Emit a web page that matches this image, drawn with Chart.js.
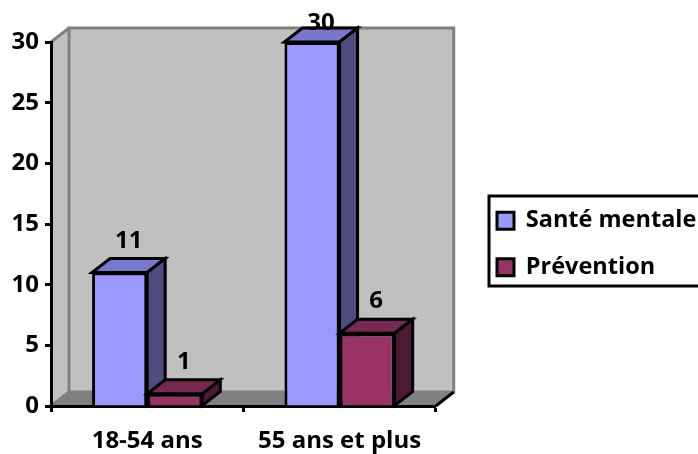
<!DOCTYPE html>
<html>
<head>
<meta charset="utf-8">
<script src="https://cdn.jsdelivr.net/npm/chart.js@4"></script>
<style>
  html, body { margin: 0; padding: 0; background: #fff; overflow: hidden; }
  canvas { display: block; }
</style>
</head>
<body>
<canvas id="chart" width="698" height="454"></canvas>
<script>
const categories = ['18-54 ans', '55 ans et plus'];
const santeMentale = [11, 30];
const prevention = [1, 6];

const FONT = '"Open Sans", "Noto Sans", sans-serif';
const DX = 18;   // oblique depth of the fake 3D
const DY = 14;

function poly(ctx, pts, fill, stroke) {
  ctx.beginPath();
  pts.forEach((p, i) => (i ? ctx.lineTo(p[0], p[1]) : ctx.moveTo(p[0], p[1])));
  ctx.closePath();
  if (fill) { ctx.fillStyle = fill; ctx.fill(); }
  if (stroke) { ctx.strokeStyle = stroke; ctx.lineWidth = 3; ctx.lineJoin = 'miter'; ctx.stroke(); }
}

// Walls and floor go behind the axes
const walls = {
  id: 'walls',
  beforeDraw(chart) {
    const { ctx, chartArea: a } = chart;
    const gray = '#808080', wall = '#c0c0c0';
    ctx.save();
    poly(ctx, [[a.left, a.top], [a.left + DX, a.top - DY], [a.left + DX, a.bottom - DY], [a.left, a.bottom]], wall);
    poly(ctx, [[a.left + DX, a.top - DY], [a.right + DX, a.top - DY], [a.right + DX, a.bottom - DY], [a.left + DX, a.bottom - DY]], wall, gray);
    poly(ctx, [[a.left, a.bottom], [a.left + DX, a.bottom - DY], [a.right + DX, a.bottom - DY], [a.right, a.bottom]], gray);
    ctx.strokeStyle = gray;
    ctx.lineWidth = 3;
    ctx.beginPath();
    ctx.moveTo(a.left, a.top);
    ctx.lineTo(a.left + DX, a.top - DY);
    ctx.moveTo(a.left, a.bottom);
    ctx.lineTo(a.left + DX, a.bottom - DY);
    ctx.stroke();
    ctx.strokeStyle = '#000';
    ctx.beginPath();
    ctx.moveTo(a.right, a.bottom);
    ctx.lineTo(a.right + DX, a.bottom - DY);
    ctx.stroke();
    ctx.restore();
  }
};

// Depth faces and value labels; redraws bars so each series overlaps the previous one
const bars3d = {
  id: 'bars3d',
  beforeDatasetDraw() { return false; },
  afterDatasetsDraw(chart) {
    const { ctx } = chart;
    chart.data.datasets.forEach((ds, i) => {
      const meta = chart.getDatasetMeta(i);
      meta.data.forEach(bar => {
        const l = bar.x - bar.width / 2, r = bar.x + bar.width / 2;
        poly(ctx, [[l, bar.y], [l + DX, bar.y - DY], [r + DX, bar.y - DY], [r, bar.y]], ds.topColor, '#000');
        poly(ctx, [[r, bar.y], [r + DX, bar.y - DY], [r + DX, bar.base - DY], [r, bar.base]], ds.sideColor, '#000');
      });
      meta.controller.draw();
    });
    ctx.save();
    ctx.font = 'bold 24px ' + FONT;
    ctx.fillStyle = '#000';
    ctx.textAlign = 'center';
    ctx.textBaseline = 'alphabetic';
    chart.data.datasets.forEach((ds, i) => {
      chart.getDatasetMeta(i).data.forEach((bar, j) => {
        ctx.fillText(String(ds.data[j]), bar.x + DX / 2, Math.max(bar.y - 25, 30));
      });
    });
    ctx.restore();
  }
};

// Puts the legend where the reference has it and frames it (right edge runs off the page)
const legendBox = {
  id: 'legendBox',
  afterLayout(chart) {
    const lg = chart.legend;
    lg.left = 474;
    lg.right = 698;
    lg.top = 149;
    lg.bottom = 339;
  },
  afterDraw(chart) {
    const { ctx } = chart;
    ctx.save();
    ctx.strokeStyle = '#000';
    ctx.lineWidth = 3;
    ctx.strokeRect(489, 196, 220, 90);
    ctx.restore();
  }
};

new Chart(document.getElementById('chart'), {
  type: 'bar',
  data: {
    labels: categories,
    datasets: [
      { label: 'Santé mentale', data: santeMentale, backgroundColor: '#9999ff', topColor: '#7777cc', sideColor: '#4d4d80', borderColor: '#000', borderWidth: 3, categoryPercentage: 0.573, barPercentage: 1 },
      { label: 'Prévention', data: prevention, backgroundColor: '#993366', topColor: '#772950', sideColor: '#4d1a33', borderColor: '#000', borderWidth: 3, categoryPercentage: 0.573, barPercentage: 1 }
    ]
  },
  options: {
    responsive: false,
    animation: false,
    layout: { padding: { top: 42, bottom: 0, left: 0, right: 117 } },
    plugins: {
      tooltip: { enabled: false },
      legend: {
        position: 'right',
        labels: {
          color: '#000',
          font: { family: FONT, size: 23.5, weight: 'bold' },
          boxWidth: 17,
          boxHeight: 17,
          padding: 23
        }
      }
    },
    scales: {
      x: {
        grid: { drawOnChartArea: false, drawTicks: true, tickLength: 6, tickColor: '#000', tickWidth: 3 },
        border: { color: '#000', width: 3 },
        ticks: { color: '#000', padding: 15, maxRotation: 0, font: { family: FONT, size: 24, weight: 'bold' } },
        afterFit(scale) { scale.height = 48; }
      },
      y: {
        min: 0,
        max: 30,
        grid: { drawOnChartArea: false, drawTicks: true, tickLength: 6, tickColor: '#000', tickWidth: 3 },
        border: { color: '#000', width: 3 },
        ticks: { color: '#000', stepSize: 5, padding: 6, font: { family: FONT, size: 24, weight: 'bold' } },
        afterFit(scale) { scale.width = 51; }
      }
    }
  },
  plugins: [walls, bars3d, legendBox]
});
</script>
</body>
</html>
